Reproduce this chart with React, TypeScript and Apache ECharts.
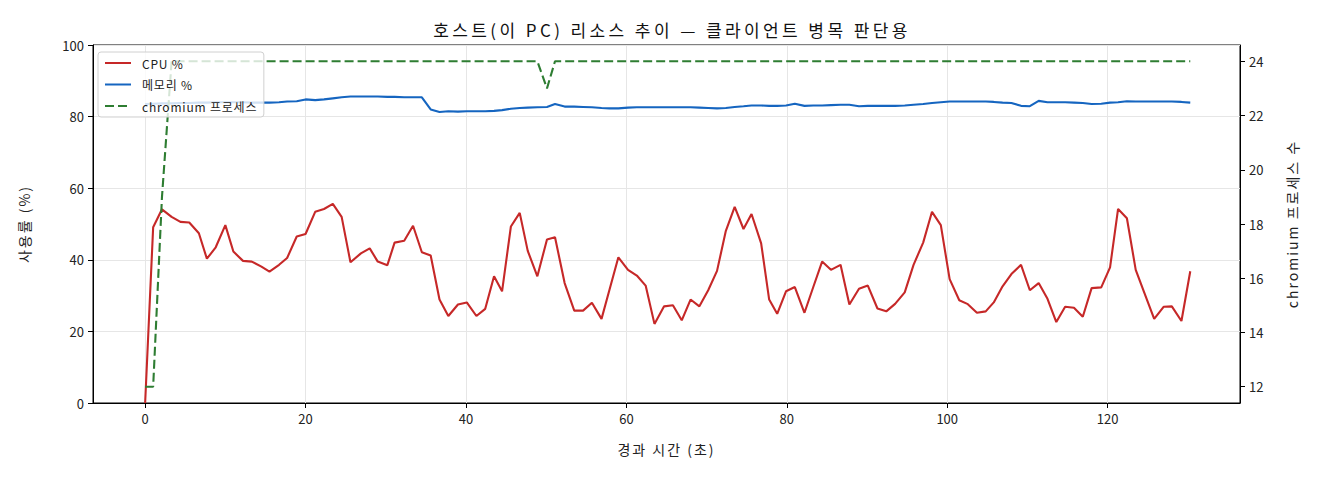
import React, { useEffect, useRef } from "react";
import * as echarts from "echarts";

// elapsed seconds for each sample
const times = [
  0, 1.0, 2.1, 3.3, 4.4, 5.5, 6.7, 7.7, 8.8, 10.0, 11.0, 12.2, 13.3, 14.5, 15.5, 16.7, 17.7, 18.9, 20.0, 21.2,
  22.3, 23.4, 24.5, 25.6, 26.9, 28.0, 29.0, 30.2, 31.1, 32.3, 33.4, 34.5, 35.6, 36.7, 37.8, 39.0, 40.1, 41.3, 42.4, 43.5,
  44.5, 45.6, 46.7, 47.7, 48.9, 50.1, 51.1, 52.3, 53.5, 54.6, 55.7, 56.9, 57.9, 59.0, 60.2, 61.3, 62.4, 63.5, 64.7, 65.8,
  66.9, 68.0, 69.1, 70.2, 71.3, 72.4, 73.5, 74.6, 75.6, 76.8, 77.8, 78.8, 79.9, 81.0, 82.2, 83.3, 84.4, 85.5, 86.7, 87.8,
  89.0, 90.1, 91.3, 92.4, 93.5, 94.7, 95.8, 97.0, 98.1, 99.2, 100.3, 101.5, 102.5, 103.7, 104.8, 105.8, 106.9, 108.0, 109.2, 110.3,
  111.4, 112.5, 113.6, 114.7, 115.8, 116.9, 118.0, 119.2, 120.3, 121.3, 122.4, 123.5, 124.6, 125.8, 127.0, 128.0, 129.2, 130.3,
];

const cpu = [
  0, 49.1, 54.1, 52.0, 50.6, 50.4, 47.4, 40.3, 43.5, 49.7, 42.3, 39.7, 39.5, 38.1, 36.7, 38.6, 40.5, 46.5, 47.2, 53.4,
  54.2, 55.6, 52.0, 39.3, 41.8, 43.2, 39.5, 38.5, 44.8, 45.3, 49.5, 42.1, 41.2, 28.9, 24.3, 27.5, 28.1, 24.3, 26.3, 35.4,
  31.2, 49.3, 53.1, 42.5, 35.4, 45.7, 46.3, 33.5, 25.8, 25.8, 28.0, 23.5, 31.7, 40.7, 37.2, 35.6, 32.8, 22.1, 27.0, 27.3,
  23.1, 28.9, 27.0, 31.5, 36.9, 48.1, 54.8, 48.6, 52.8, 44.6, 28.9, 24.9, 31.2, 32.4, 25.2, 32.4, 39.5, 37.2, 38.6, 27.5,
  31.9, 32.8, 26.4, 25.6, 27.7, 30.9, 38.6, 44.8, 53.4, 49.7, 34.6, 28.7, 27.7, 25.2, 25.6, 28.1, 32.6, 36.0, 38.6, 31.5,
  33.5, 29.1, 22.6, 26.9, 26.6, 24.1, 32.1, 32.3, 37.9, 54.2, 51.6, 37.2, 30.6, 23.5, 26.9, 27.0, 22.9, 36.8,
];

const memory = [
  83.5, 83.6, 83.7, 83.7, 83.8, 83.8, 83.9, 83.9, 84.0, 84.0, 84.0, 84.0, 83.9, 83.9, 83.9, 84.0, 84.2, 84.3, 84.8, 84.6,
  84.8, 85.1, 85.4, 85.6, 85.6, 85.6, 85.6, 85.5, 85.5, 85.4, 85.4, 85.4, 82.0, 81.3, 81.5, 81.4, 81.5, 81.5, 81.5, 81.6,
  81.8, 82.2, 82.4, 82.5, 82.6, 82.7, 83.5, 82.8, 82.8, 82.7, 82.6, 82.4, 82.3, 82.3, 82.5, 82.6, 82.6, 82.6, 82.6, 82.6,
  82.6, 82.6, 82.5, 82.4, 82.3, 82.4, 82.7, 82.9, 83.1, 83.1, 83.0, 83.0, 83.1, 83.6, 83.0, 83.1, 83.1, 83.2, 83.3, 83.3,
  82.9, 83.0, 83.0, 83.0, 83.0, 83.1, 83.3, 83.5, 83.8, 84.0, 84.2, 84.2, 84.2, 84.2, 84.2, 84.1, 83.9, 83.8, 83.0, 82.9,
  84.4, 84.0, 84.0, 84.0, 83.9, 83.8, 83.5, 83.6, 83.9, 84.0, 84.3, 84.2, 84.2, 84.2, 84.2, 84.2, 84.1, 83.9,
];

const chromium = [
  12, 12, 19, 24, 24, 24, 24, 24, 24, 24, 24, 24, 24, 24, 24, 24, 24, 24, 24, 24,
  24, 24, 24, 24, 24, 24, 24, 24, 24, 24, 24, 24, 24, 24, 24, 24, 24, 24, 24, 24,
  24, 24, 24, 24, 24, 23, 24, 24, 24, 24, 24, 24, 24, 24, 24, 24, 24, 24, 24, 24,
  24, 24, 24, 24, 24, 24, 24, 24, 24, 24, 24, 24, 24, 24, 24, 24, 24, 24, 24, 24,
  24, 24, 24, 24, 24, 24, 24, 24, 24, 24, 24, 24, 24, 24, 24, 24, 24, 24, 24, 24,
  24, 24, 24, 24, 24, 24, 24, 24, 24, 24, 24, 24, 24, 24, 24, 24, 24, 24,
];

const xTicks = [0, 20, 40, 60, 80, 100, 120];
const rightTicks = [12, 14, 16, 18, 20, 22, 24];

const FONT = "'Noto Sans CJK KR', 'Noto Sans', sans-serif";

// the reference's Korean font sets its glyphs wider apart; widen the label texts to match
const spacingCss = `
  .chart text[style*="17px"] { letter-spacing: 3.4px; }
  .chart text[style*="14px"] { letter-spacing: 2px; }
  .chart text[style*="12px"] { letter-spacing: 0.8px; }
`;

const App: React.FC = () => {
  const chartRef = useRef<HTMLDivElement>(null);

  useEffect(() => {
    document.body.style.margin = "0";
    if (!chartRef.current) return;
    const myChart = echarts.init(chartRef.current, undefined, { renderer: "svg" });

    const pair = (vals: number[]) => times.map((t, i) => [t, vals[i]]);
    const axisLine = { show: true, onZero: false, lineStyle: { color: "#000", width: 1 } };
    const tick = { show: true, length: 5, lineStyle: { color: "#000" } };
    const label = { color: "#222", fontSize: 13, fontFamily: FONT };
    const nameStyle = { fontSize: 14, color: "#222", fontFamily: FONT };

    const option: echarts.EChartsOption = {
      animation: false,
      backgroundColor: "#fff",
      textStyle: { fontFamily: FONT },
      title: {
        text: "호스트(이 PC) 리소스 추이 — 클라이언트 병목 판단용",
        left: 667,
        top: 16,
        textAlign: "center",
        textStyle: { fontSize: 17, fontWeight: "normal", color: "#111", fontFamily: FONT },
      },
      grid: {
        left: 93,
        right: 80,
        top: 45,
        bottom: 77,
        show: true,
        borderColor: "#000",
        borderWidth: 1,
        backgroundColor: "transparent",
      },
      legend: {
        orient: "vertical",
        left: 98,
        top: 52,
        itemWidth: 26,
        itemHeight: 14,
        itemGap: 9.5,
        padding: [5, 17, 5, 6],
        borderColor: "#d0d0d0",
        borderWidth: 1,
        borderRadius: 3,
        backgroundColor: "rgba(255,255,255,0.8)",
        itemStyle: { opacity: 0 },
        textStyle: { fontSize: 12, color: "#222", fontFamily: FONT, padding: [0, 0, 0, 6] },
        data: ["CPU %", "메모리 %", "chromium 프로세스"],
      },
      xAxis: {
        type: "value",
        min: -6.5,
        max: 136.5,
        name: "경과 시간 (초)",
        nameLocation: "middle",
        nameGap: 39,
        nameTextStyle: nameStyle,
        axisLine,
        axisTick: { ...tick, customValues: xTicks },
        axisLabel: { ...label, margin: 9, customValues: xTicks },
        splitLine: { show: true, lineStyle: { color: "#e6e6e6", width: 1 } },
      },
      yAxis: [
        {
          type: "value",
          min: 0,
          max: 100,
          interval: 20,
          name: "사용률 (%)",
          nameLocation: "middle",
          nameGap: 62,
          nameRotate: 90,
          nameTextStyle: nameStyle,
          axisLine,
          axisTick: tick,
          axisLabel: { ...label, margin: 9 },
          splitLine: { show: true, lineStyle: { color: "#e6e6e6", width: 1 } },
        },
        {
          type: "value",
          position: "right",
          min: 11.4,
          max: 24.6,
          name: "chromium 프로세스 수",
          nameLocation: "middle",
          nameGap: 45,
          nameRotate: 90,
          nameTextStyle: nameStyle,
          axisLine,
          axisTick: { ...tick, customValues: rightTicks },
          axisLabel: { ...label, margin: 9, customValues: rightTicks },
          splitLine: { show: false },
        },
      ],
      series: [
        {
          name: "CPU %",
          type: "line",
          yAxisIndex: 0,
          data: pair(cpu),
          symbol: "none",
          color: "#c62828",
          lineStyle: { width: 2.1, color: "#c62828" },
        },
        {
          name: "메모리 %",
          type: "line",
          yAxisIndex: 0,
          data: pair(memory),
          symbol: "none",
          color: "#1565c0",
          lineStyle: { width: 2.1, color: "#1565c0" },
        },
        {
          name: "chromium 프로세스",
          type: "line",
          yAxisIndex: 1,
          data: pair(chromium),
          symbol: "none",
          color: "#2e7d32",
          lineStyle: { width: 2.1, color: "#2e7d32", type: [9, 4] },
        },
      ],
    };

    myChart.setOption(option);

    return () => {
      myChart.dispose();
    };
  }, []);

  return (
    <>
      <style>{spacingCss}</style>
      <div className="chart" ref={chartRef} style={{ width: "1320px", height: "480px" }} />
    </>
  );
};

export default App;
